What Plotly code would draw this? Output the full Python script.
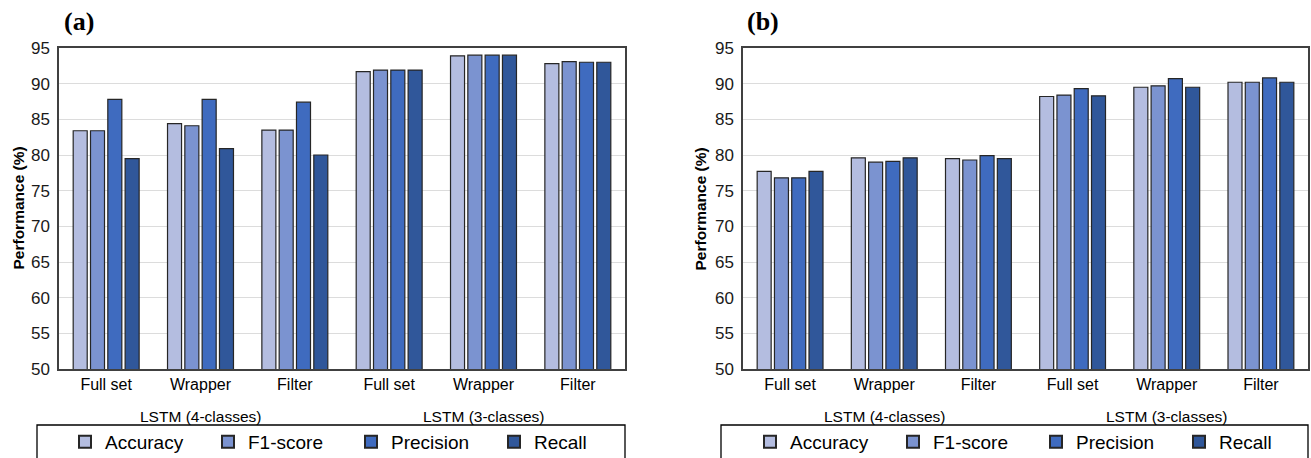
import plotly.graph_objects as go

W, H = 1311, 458

categories = ["Full set", "Wrapper", "Filter", "Full set", "Wrapper", "Filter"]
group_labels = ["LSTM (4-classes)", "LSTM (3-classes)"]
metrics = ["Accuracy", "F1-score", "Precision", "Recall"]
colors = ["#B4BDE0", "#7B93D0", "#3F6BBF", "#30579A"]

# Panel (a)
a_accuracy = [83.4, 84.4, 83.5, 91.7, 93.9, 92.8]
a_f1 = [83.4, 84.1, 83.5, 91.9, 94.0, 93.1]
a_precision = [87.8, 87.8, 87.4, 91.9, 94.0, 93.0]
a_recall = [79.5, 80.9, 80.0, 91.9, 94.0, 93.0]

# Panel (b)
b_accuracy = [77.7, 79.6, 79.5, 88.2, 89.5, 90.2]
b_f1 = [76.8, 79.0, 79.3, 88.4, 89.7, 90.2]
b_precision = [76.8, 79.1, 79.9, 89.3, 90.7, 90.8]
b_recall = [77.7, 79.6, 79.5, 88.3, 89.5, 90.2]

y_ticks = [50, 55, 60, 65, 70, 75, 80, 85, 90, 95]

panels = [
    dict(data=[a_accuracy, a_f1, a_precision, a_recall], label="(a)",
         xa="x", ya="y", legend="legend",
         x0=59, x1=625, box0=37, leg_cx=351, ytitle_x=18),
    dict(data=[b_accuracy, b_f1, b_precision, b_recall], label="(b)",
         xa="x2", ya="y2", legend="legend2",
         x0=743, x1=1308, box0=721, leg_cx=1036, ytitle_x=700),
]

top_px, bot_px = 48, 369
ydom = [(H - bot_px) / H, (H - top_px) / H]

fig = go.Figure()
xpos = list(range(len(categories)))

FONT = "Arial, Liberation Sans, sans-serif"
annotations = []
shapes = []
for p in panels:
    for name, vals, col in zip(metrics, p["data"], colors):
        fig.add_trace(go.Bar(
            x=xpos, y=vals, name=name, xaxis=p["xa"], yaxis=p["ya"],
            marker=dict(color=col, line=dict(color="#262626", width=1.2)),
            legend=p["legend"],
        ))
    # group labels
    for gi, gl in enumerate(group_labels):
        annotations.append(dict(
            text=gl, x=1 + gi * 3, xref=p["xa"], y=(H - 416) / H, yref="paper",
            showarrow=False, font=dict(family=FONT, size=15.5, color="#000000"),
            xanchor="center", yanchor="middle"))
    # panel label
    annotations.append(dict(
        text="<b>" + p["label"] + "</b>", x=(p["x0"] + 20) / W, xref="paper",
        y=(H - 21) / H, yref="paper", showarrow=False, xanchor="center", yanchor="middle",
        font=dict(family="Liberation Serif, Times New Roman, serif", size=26, color="#000000")))
    # y title
    annotations.append(dict(
        text="<b>Performance (%)</b>", x=p["ytitle_x"] / W, xref="paper",
        y=sum(ydom) / 2, yref="paper", showarrow=False, textangle=-90,
        xanchor="center", yanchor="middle",
        font=dict(family=FONT, size=15.5, color="#000000")))
    # legend box
    shapes.append(dict(type="rect", xref="paper", yref="paper",
                       x0=p["box0"] / W, x1=p["x1"] / W,
                       y0=-0.05, y1=(H - 425) / H,
                       line=dict(color="#000000", width=1.3), fillcolor="rgba(0,0,0,0)"))

axis_common = dict(
    showline=True, linecolor="#404040", linewidth=1.5, mirror=True, automargin=False,
)
for i, p in enumerate(panels):
    sfx = "" if i == 0 else "2"
    fig.update_layout(**{
        "xaxis" + sfx: dict(
            domain=[p["x0"] / W, p["x1"] / W], anchor="y" + sfx,
            range=[-0.5, 5.5], tickmode="array", tickvals=xpos, ticktext=categories,
            ticks="", showgrid=False, zeroline=False,
            tickfont=dict(family=FONT, size=16, color="#000000"),
            **axis_common),
        "yaxis" + sfx: dict(
            domain=ydom, anchor="x" + sfx, range=[50, 95],
            tickmode="array", tickvals=y_ticks, ticks="",
            showgrid=True, gridcolor="#DCDCDC", gridwidth=1, zeroline=False,
            tickfont=dict(family=FONT, size=17, color="#1a1a1a"),
            ticklabelstandoff=4,
            **axis_common),
    })

leg_common = dict(
    orientation="h", xanchor="center", yanchor="middle", y=(H - 442) / H,
    font=dict(family=FONT, size=19, color="#000000"),
    bgcolor="rgba(0,0,0,0)", borderwidth=0, itemsizing="constant",
    entrywidth=98, entrywidthmode="pixels", itemwidth=30,
    traceorder="normal", itemclick=False, itemdoubleclick=False,
)

fig.update_layout(
    width=W, height=H,
    margin=dict(l=0, r=0, t=0, b=0, autoexpand=False),
    paper_bgcolor="white", plot_bgcolor="white",
    barmode="group", bargap=0.266, bargroupgap=0.19,
    showlegend=True,
    legend=dict(x=panels[0]["leg_cx"] / W, **leg_common),
    legend2=dict(x=panels[1]["leg_cx"] / W, **leg_common),
    annotations=annotations, shapes=shapes,
)

fig.write_html(
    "out.html",
    config={"displayModeBar": False},
    post_script="document.body.style.margin='0';document.body.style.overflow='hidden';",
)
